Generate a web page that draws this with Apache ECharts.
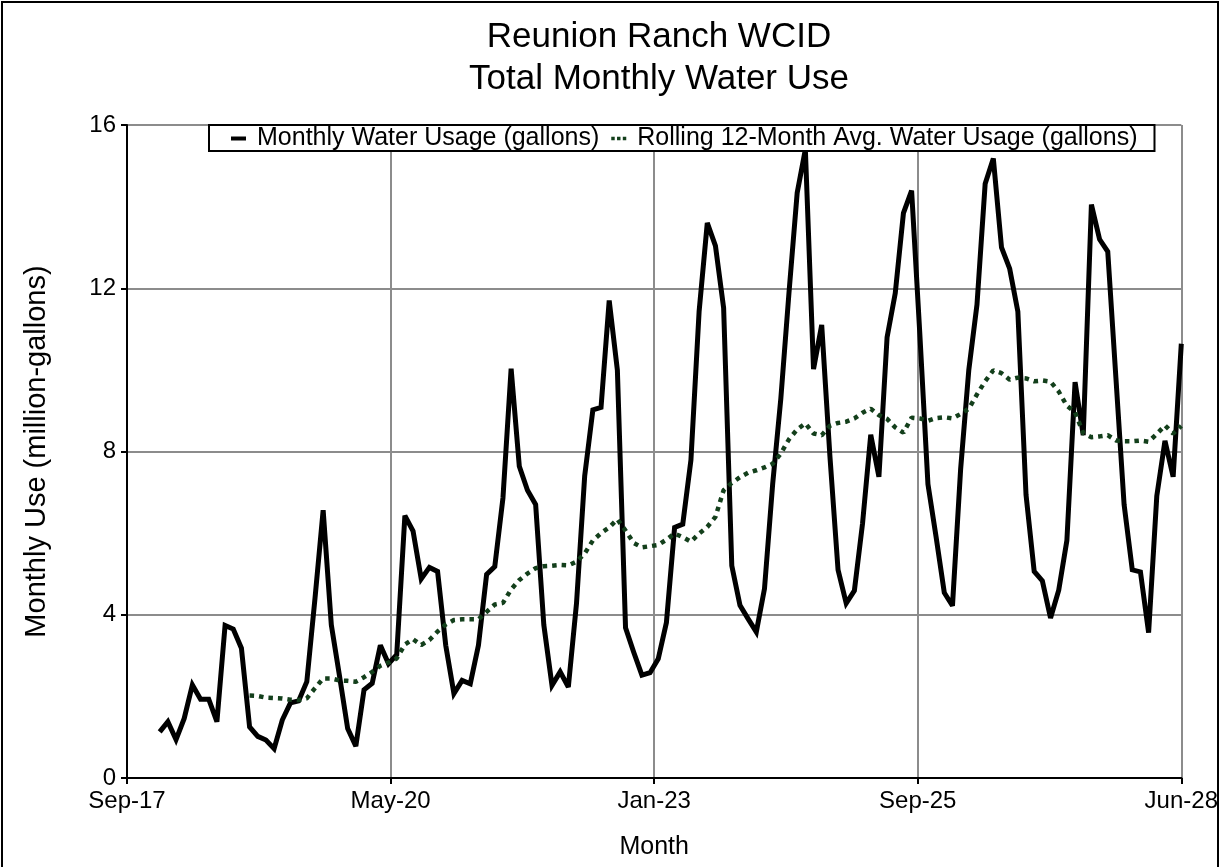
<!DOCTYPE html>
<html>
<head>
<meta charset="utf-8">
<script src="https://cdn.jsdelivr.net/npm/echarts@6/dist/echarts.min.js"></script>
<style>
html,body{margin:0;padding:0;background:#fff;overflow:hidden;}
#chart{width:1221px;height:867px;}
</style>
</head>
<body>
<div id="chart"></div>
<script>
// Monthly categories (one per data point)
const months = [
'2018-01','2018-02','2018-03','2018-04','2018-05','2018-06','2018-07','2018-08','2018-09','2018-10','2018-11','2018-12',
'2019-01','2019-02','2019-03','2019-04','2019-05','2019-06','2019-07','2019-08','2019-09','2019-10','2019-11','2019-12',
'2020-01','2020-02','2020-03','2020-04','2020-05','2020-06','2020-07','2020-08','2020-09','2020-10','2020-11','2020-12',
'2021-01','2021-02','2021-03','2021-04','2021-05','2021-06','2021-07','2021-08','2021-09','2021-10','2021-11','2021-12',
'2022-01','2022-02','2022-03','2022-04','2022-05','2022-06','2022-07','2022-08','2022-09','2022-10','2022-11','2022-12',
'2023-01','2023-02','2023-03','2023-04','2023-05','2023-06','2023-07','2023-08','2023-09','2023-10','2023-11','2023-12',
'2024-01','2024-02','2024-03','2024-04','2024-05','2024-06','2024-07','2024-08','2024-09','2024-10','2024-11','2024-12',
'2025-01','2025-02','2025-03','2025-04','2025-05','2025-06','2025-07','2025-08','2025-09','2025-10','2025-11','2025-12',
'2026-01','2026-02','2026-03','2026-04','2026-05','2026-06','2026-07','2026-08','2026-09','2026-10','2026-11','2026-12',
'2027-01','2027-02','2027-03','2027-04','2027-05','2027-06','2027-07','2027-08','2027-09','2027-10','2027-11','2027-12',
'2028-01','2028-02','2028-03','2028-04','2028-05','2028-06'
];

// Monthly water usage (million gallons)
const monthlyUse = [
1.13,1.38,0.94,1.46,2.28,1.93,1.93,1.38,3.74,3.65,3.18,1.25,
1.02,0.93,0.72,1.42,1.84,1.89,2.36,4.40,6.56,3.75,2.50,1.21,
0.78,2.16,2.32,3.25,2.80,3.02,6.43,6.05,4.88,5.16,5.06,3.25,
2.07,2.39,2.31,3.25,4.99,5.18,6.86,10.03,7.64,7.05,6.70,3.75,
2.27,2.60,2.23,4.28,7.40,9.02,9.08,11.70,9.99,3.68,3.08,2.52,
2.58,2.92,3.81,6.14,6.22,7.79,11.43,13.60,13.04,11.52,5.20,4.23,
3.90,3.58,4.64,7.20,9.30,11.90,14.34,15.40,10.02,11.10,7.90,5.10,
4.28,4.59,6.24,8.41,7.38,10.80,11.88,13.84,14.39,10.90,7.20,5.90,
4.54,4.22,7.57,10.00,11.60,14.56,15.18,13.00,12.48,11.43,6.94,5.06,
4.83,3.92,4.60,5.82,9.70,8.40,14.05,13.20,12.90,9.80,6.70,5.10,
5.05,3.56,6.91,8.26,7.38,10.64
];

// Rolling 12-month average (million gallons), starting at rollingStart
const rollingStart = '2018-12';
const rollingAvg = [
2.02,2.01,1.97,1.96,1.95,1.92,1.91,1.95,2.20,2.44,2.44,2.39,2.38,
2.36,2.47,2.60,2.75,2.83,2.93,3.27,3.40,3.26,3.38,3.59,3.76,
3.87,3.89,3.89,3.89,4.07,4.25,4.29,4.62,4.85,5.01,5.14,5.19,
5.20,5.22,5.21,5.30,5.50,5.82,6.00,6.14,6.34,6.06,5.76,5.65,
5.68,5.71,5.84,5.99,5.90,5.79,5.99,6.15,6.40,7.05,7.23,7.37,
7.48,7.54,7.61,7.70,7.95,8.30,8.54,8.69,8.44,8.40,8.63,8.70,
8.73,8.81,8.95,9.05,8.89,8.80,8.59,8.46,8.83,8.81,8.75,8.82,
8.84,8.81,8.92,9.05,9.40,9.72,9.99,9.92,9.76,9.81,9.79,9.72,
9.74,9.71,9.47,9.12,8.96,8.45,8.35,8.37,8.40,8.27,8.25,8.25,
8.27,8.24,8.43,8.64,8.44,8.63
];

// Axis tick labels
const xTickLabels = ['Sep-17','May-20','Jan-23','Sep-25','Jun-28'];
const xAxisStart = '2017-09';
const xTickStep = 32.25;   // months between labelled ticks
const yTickLabels = ['0','4','8','12','16'];

function monthIndex(s){
  const [y,m] = s.split('-').map(Number);
  const [y0,m0] = xAxisStart.split('-').map(Number);
  return (y - y0) * 12 + (m - m0);
}

const monthlyData = months.map((mo, i) => [monthIndex(mo), monthlyUse[i]]);
const rStart = months.indexOf(rollingStart);
const rollingData = rollingAvg.map((v, i) => [monthIndex(months[rStart + i]), v]);

const FONT = '"Liberation Sans", Arial, Helvetica, sans-serif';
const GREEN = '#133f1b';
const chart = echarts.init(document.getElementById('chart'), null, {renderer:'canvas'});

chart.setOption({
  backgroundColor: '#ffffff',
  animation: false,
  textStyle: { fontFamily: FONT },
  title: {
    text: 'Reunion Ranch WCID\nTotal Monthly Water Use',
    left: 654, top: 11, textAlign: 'center',
    textStyle: { fontFamily: FONT, fontSize: 35, fontWeight: 'normal', color: '#000', lineHeight: 42 }
  },
  legend: {
    left: 209, top: 125,
    backgroundColor: '#fff', borderColor: '#000', borderWidth: 2,
    padding: [1, 17, 0, 22],
    itemGap: 12,
    textStyle: { fontFamily: FONT, fontSize: 25, color: '#000', padding: [0, 0, 0, 6] },
    data: [
      { name: 'Monthly Water Usage (gallons)', icon: 'rect', itemStyle: { color: '#000' } },
      { name: 'Rolling 12-Month Avg. Water Usage (gallons)',
        icon: 'path://M0,0h3v3h-3z M5,0h3v3h-3z M10,0h3v3h-3z', itemStyle: { color: GREEN } }
    ],
    itemWidth: 15, itemHeight: 4
  },
  grid: { left: 127, right: 30, top: 125, bottom: 89, containLabel: false },
  xAxis: {
    type: 'value', min: 0, max: monthIndex(months[months.length - 1]), interval: xTickStep,
    name: 'Month', nameLocation: 'middle', nameGap: 57,
    nameTextStyle: { fontFamily: FONT, fontSize: 25, color: '#000' },
    axisLine: { show: true, onZero: false, lineStyle: { color: '#000', width: 2 } },
    axisTick: { show: true, length: 6, lineStyle: { color: '#000', width: 2 } },
    axisLabel: {
      fontFamily: FONT, fontSize: 24, color: '#000', margin: 11,
      showMinLabel: true, showMaxLabel: true,
      formatter: v => { const i = Math.round(v / xTickStep); return xTickLabels[i] || ''; }
    },
    splitLine: { show: true, lineStyle: { color: '#8c8c8c', width: 2 } }
  },
  yAxis: {
    type: 'value', min: 0, max: 16, interval: 4,
    name: 'Monthly Use (million-gallons)', nameLocation: 'middle', nameGap: 76, nameRotate: 90,
    nameTextStyle: { fontFamily: FONT, fontSize: 29, color: '#000' },
    axisLine: { show: true, lineStyle: { color: '#000', width: 2 } },
    axisTick: { show: true, length: 6, lineStyle: { color: '#000', width: 2 } },
    axisLabel: {
      fontFamily: FONT, fontSize: 24, color: '#000', margin: 11,
      formatter: v => yTickLabels[Math.round(v / 4)]
    },
    splitLine: { show: true, lineStyle: { color: '#8c8c8c', width: 2 } }
  },
  series: [
    {
      name: 'Monthly Water Usage (gallons)', type: 'line', data: monthlyData,
      showSymbol: false, symbol: 'none', smooth: false,
      lineStyle: { color: '#000', width: 5, join: 'miter', miterLimit: 3 },
      itemStyle: { color: '#000' }, z: 2
    },
    {
      name: 'Rolling 12-Month Avg. Water Usage (gallons)', type: 'line', data: rollingData,
      showSymbol: false, symbol: 'none', smooth: false,
      lineStyle: { color: GREEN, width: 4.5, type: [4.5, 5], cap: 'butt' },
      itemStyle: { color: GREEN }, z: 3
    }
  ],
  graphic: [
    { type: 'rect', silent: true, z: 100,
      shape: { x: 2, y: 2, width: 1216, height: 880 },
      style: { fill: 'none', stroke: '#000', lineWidth: 2 } }
  ]
});
</script>
</body>
</html>
